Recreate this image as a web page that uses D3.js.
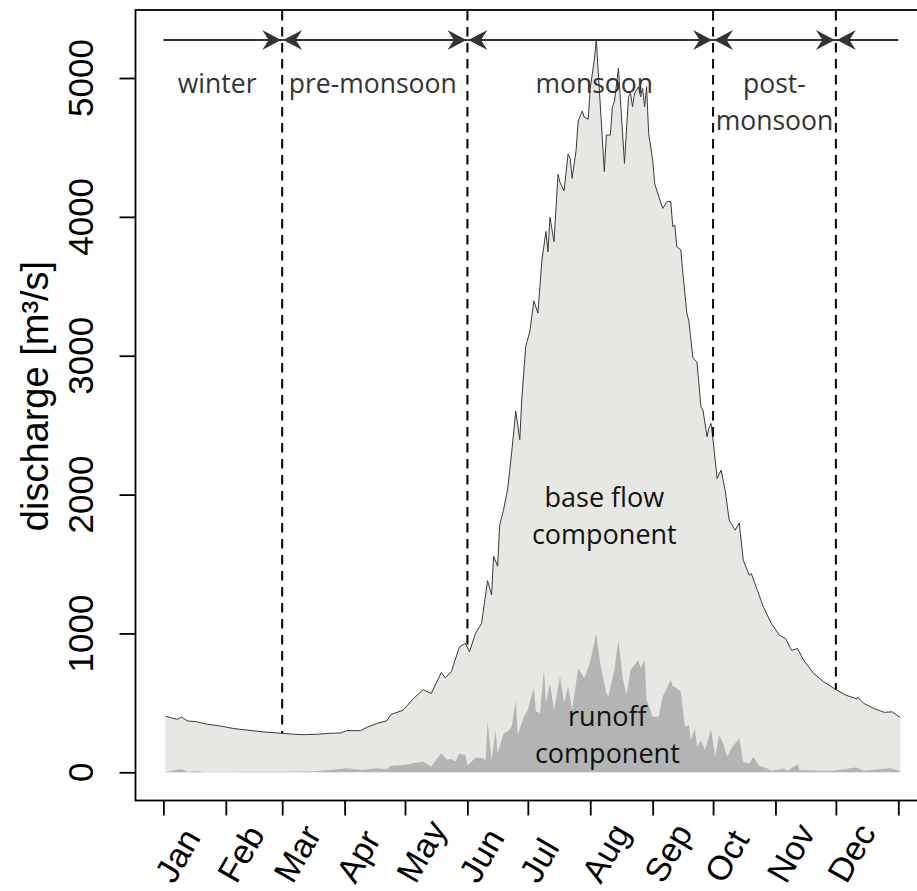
<!DOCTYPE html>
<html><head><meta charset="utf-8">
<script src="https://cdn.jsdelivr.net/npm/d3@7"></script>
<style>body{margin:0;background:#fff} svg{display:block}</style>
</head><body>
<svg id="chart" width="917" height="891"></svg>
<script>
// ---------- data ----------
const monthLabels = ["Jan","Feb","Mar","Apr","May","Jun","Jul","Aug","Sep","Oct","Nov","Dec"];
const yTickValues = [0,1000,2000,3000,4000,5000];

// total discharge (base flow + runoff), day of year vs m3/s
const totalDays = [1,4,7,9,12,16,22,28,35,41,50,59,65,70,76,83,88,91,98,101,106,111,113,119,124,129,133,138,140,143,147,150,152,155,158,161,163,164,166,167,169,171,173,175,177,178,180,182,184,186,188,190,191,192,194,196,197,199,201,202,203,205,206,208,209,211,212,214,215,219,220,222,223,224,226,227,229,231,232,233,234,236,237,238,239,240,241,243,244,245,248,250,252,253,254,255,257,258,260,261,263,265,267,268,270,271,272,273,275,277,279,281,284,286,288,291,292,295,298,302,306,309,312,315,318,323,328,334,339,344,345,348,353,358,362,366];
const totalFlow = [405,392,382,398,370,365,346,334,315,305,290,281,274,271,274,281,283,300,300,324,351,372,416,447,528,596,567,718,682,723,903,929,867,1000,1071,1380,1277,1556,1484,1777,1895,2042,2307,2601,2395,2689,3071,3174,3395,3307,3689,3895,3748,3998,3821,4306,4247,4189,4453,4424,4277,4483,4689,4762,4718,4703,4924,5130,5274,4325,4589,4589,4793,4829,5070,4841,4385,4865,4890,4793,4890,4937,4865,4925,4793,4937,4601,4409,4241,4193,4061,4109,4109,3929,3941,3785,3761,3593,3305,3248,2983,2954,2630,2608,2416,2483,2512,2392,2116,2176,2032,1816,1744,1796,1527,1419,1431,1311,1191,1071,987,963,879,891,807,711,651,596,555,531,538,495,459,432,435,394];

// runoff component
const runoffDays = [1,9,12,17,20,60,75,83,91,99,106,111,113,119,124,129,133,136,138,141,143,145,147,150,151,155,158,160,161,163,165,166,169,171,173,175,176,179,181,184,185,187,189,190,192,194,197,199,201,203,206,209,210,212,215,217,220,221,224,226,228,230,232,234,236,237,239,240,243,246,248,252,253,255,257,259,261,262,264,265,267,269,272,274,276,278,280,282,286,288,291,293,296,300,302,308,310,315,316,325,333,344,348,361,366];
const runoffFlow = [2,24,3,10,3,4,8,17,29,17,29,22,48,53,65,77,41,101,135,90,95,77,136,125,48,105,105,88,365,88,305,136,281,293,329,521,270,400,449,610,440,425,737,500,640,450,690,500,620,450,748,680,713,800,1000,780,570,545,740,952,689,555,737,773,809,749,809,521,400,401,545,665,617,605,580,329,341,233,317,184,230,160,310,110,268,208,112,170,245,75,64,112,45,28,12,28,12,58,16,12,12,34,12,30,7];

// seasons: boundaries as month index (start of Mar, Jun, Oct, Dec)
const seasonBoundaryMonths = [2,5,9,11];
const seasonLabels = [["winter"],["pre-monsoon"],["monsoon"],["post-","monsoon"]];
const seasonLabelDays = [26.7,104,214,303.5];

const componentLabels = [
  {lines:["base flow","component"], day:219, value:1910},
  {lines:["runoff","component"], day:220.5, value:335}
];

// ---------- scales ----------
const svg = d3.select("#chart");
const base = new Date(2001,0,1);
const monthStarts = d3.range(13).map(m => d3.timeDay.count(base, new Date(2001,m,1)));
const x = d3.scaleLinear().domain([0,365]).range([163.4,898.3]);
const y = d3.scaleLinear().domain([0,5000]).range([772.3,78]);

const total = totalDays.map((d,i)=>({t:d,v:totalFlow[i]}));
const runoff = runoffDays.map((d,i)=>({t:d,v:runoffFlow[i]}));

// ---------- areas ----------
const area = d3.area().x(d=>x(d.t)).y0(y(0)).y1(d=>y(d.v));
const line = d3.line().x(d=>x(d.t)).y(d=>y(d.v));

svg.append("path").datum(total).attr("d",area).attr("fill","#e7e7e3");
svg.append("path").datum(runoff).attr("d",area).attr("fill","#b4b4b4");
svg.append("path").datum(total).attr("d",line).attr("fill","none")
   .attr("stroke","#3a3a3a").attr("stroke-width",1).attr("stroke-linejoin","round");

// interpolate total flow at a day
function flowAt(t){
  const i = d3.bisector(d=>d.t).left(total,t);
  if(i<=0) return total[0].v;
  if(i>=total.length) return total[total.length-1].v;
  const a=total[i-1], b=total[i];
  return a.v + (b.v-a.v)*(t-a.t)/(b.t-a.t);
}

// ---------- dashed season boundaries ----------
const boundaryDays = seasonBoundaryMonths.map(m=>monthStarts[m]);
svg.selectAll(".bnd").data(boundaryDays).join("line")
  .attr("x1",d=>x(d)).attr("x2",d=>x(d))
  .attr("y1",11).attr("y2",d=>y(flowAt(d)))
  .attr("stroke","#000").attr("stroke-width",2).attr("stroke-dasharray","9.5,6.5");

// ---------- arrows ----------
const arrowY = 40;
const edges = [0].concat(boundaryDays).concat([365]);
const arrowG = svg.append("g");
function head(xp, dir){ // dir: +1 pointing right, -1 pointing left
  const L=19, H=10, N=12.5;
  arrowG.append("path")
    .attr("d",`M${xp},${arrowY} L${xp-dir*L},${arrowY-H} L${xp-dir*N},${arrowY} L${xp-dir*L},${arrowY+H} Z`)
    .attr("fill","#333");
}
for(let i=0;i<edges.length-1;i++){
  const a=x(edges[i]), b=x(edges[i+1]);
  arrowG.append("line").attr("x1",a).attr("x2",b).attr("y1",arrowY).attr("y2",arrowY)
    .attr("stroke","#333").attr("stroke-width",2);
  if(i>0) head(a+1,-1);
  if(i<edges.length-2) head(b-1,1);
}

// season labels
seasonLabels.forEach((lines,i)=>{
  const t = svg.append("text").attr("font-family","'Open Sans', sans-serif")
    .attr("font-size",26.5).attr("fill","#333").attr("text-anchor","middle");
  lines.forEach((s,j)=>{
    t.append("tspan").attr("x",x(seasonLabelDays[i])).attr("y",92.7+j*37).text(s);
  });
});

// component labels
componentLabels.forEach(c=>{
  const t = svg.append("text").attr("font-family","'Open Sans', sans-serif")
    .attr("font-size",27).attr("fill","#111").attr("text-anchor","middle");
  c.lines.forEach((s,j)=>{
    t.append("tspan").attr("x",x(c.day)).attr("y",y(c.value)+j*37).text(s);
  });
});

// ---------- box ----------
svg.append("rect").attr("x",135.5).attr("y",10).attr("width",820).attr("height",790.5)
  .attr("fill","none").attr("stroke","#000").attr("stroke-width",1.8);

// ---------- axes ----------
const xAxis = d3.axisBottom(x).tickValues(monthStarts).tickSize(15).tickFormat("");
const gx = svg.append("g").attr("transform","translate(0,800.5)").call(xAxis);
gx.select(".domain").remove();
gx.selectAll(".tick line").attr("stroke","#000").attr("stroke-width",1.8);

svg.selectAll(".mlab").data(monthLabels).join("text")
  .attr("transform",(d,i)=>`translate(${x(monthStarts[i])+10.6},885) rotate(-60)`)
  .attr("text-anchor","start").attr("font-family","'Liberation Sans', Arial, sans-serif")
  .attr("font-size",34).attr("fill","#000").text(d=>d);

const yAxis = d3.axisLeft(y).tickValues(yTickValues).tickSize(16).tickFormat("");
const gy = svg.append("g").attr("transform","translate(135.5,0)").call(yAxis);
gy.select(".domain").remove();
gy.selectAll(".tick line").attr("stroke","#000").attr("stroke-width",1.8);

svg.selectAll(".ylab").data(yTickValues).join("text")
  .attr("transform",d=>`translate(93,${y(d)}) rotate(-90)`)
  .attr("text-anchor","middle").attr("font-family","'Liberation Sans', Arial, sans-serif")
  .attr("font-size",35).attr("fill","#000").text(d=>d);

svg.append("text")
  .attr("transform",`translate(48,396) rotate(-90)`)
  .attr("text-anchor","middle").attr("font-family","'Liberation Sans', Arial, sans-serif")
  .attr("font-size",38).attr("fill","#000").text("discharge [m³/s]");
</script>
</body></html>
